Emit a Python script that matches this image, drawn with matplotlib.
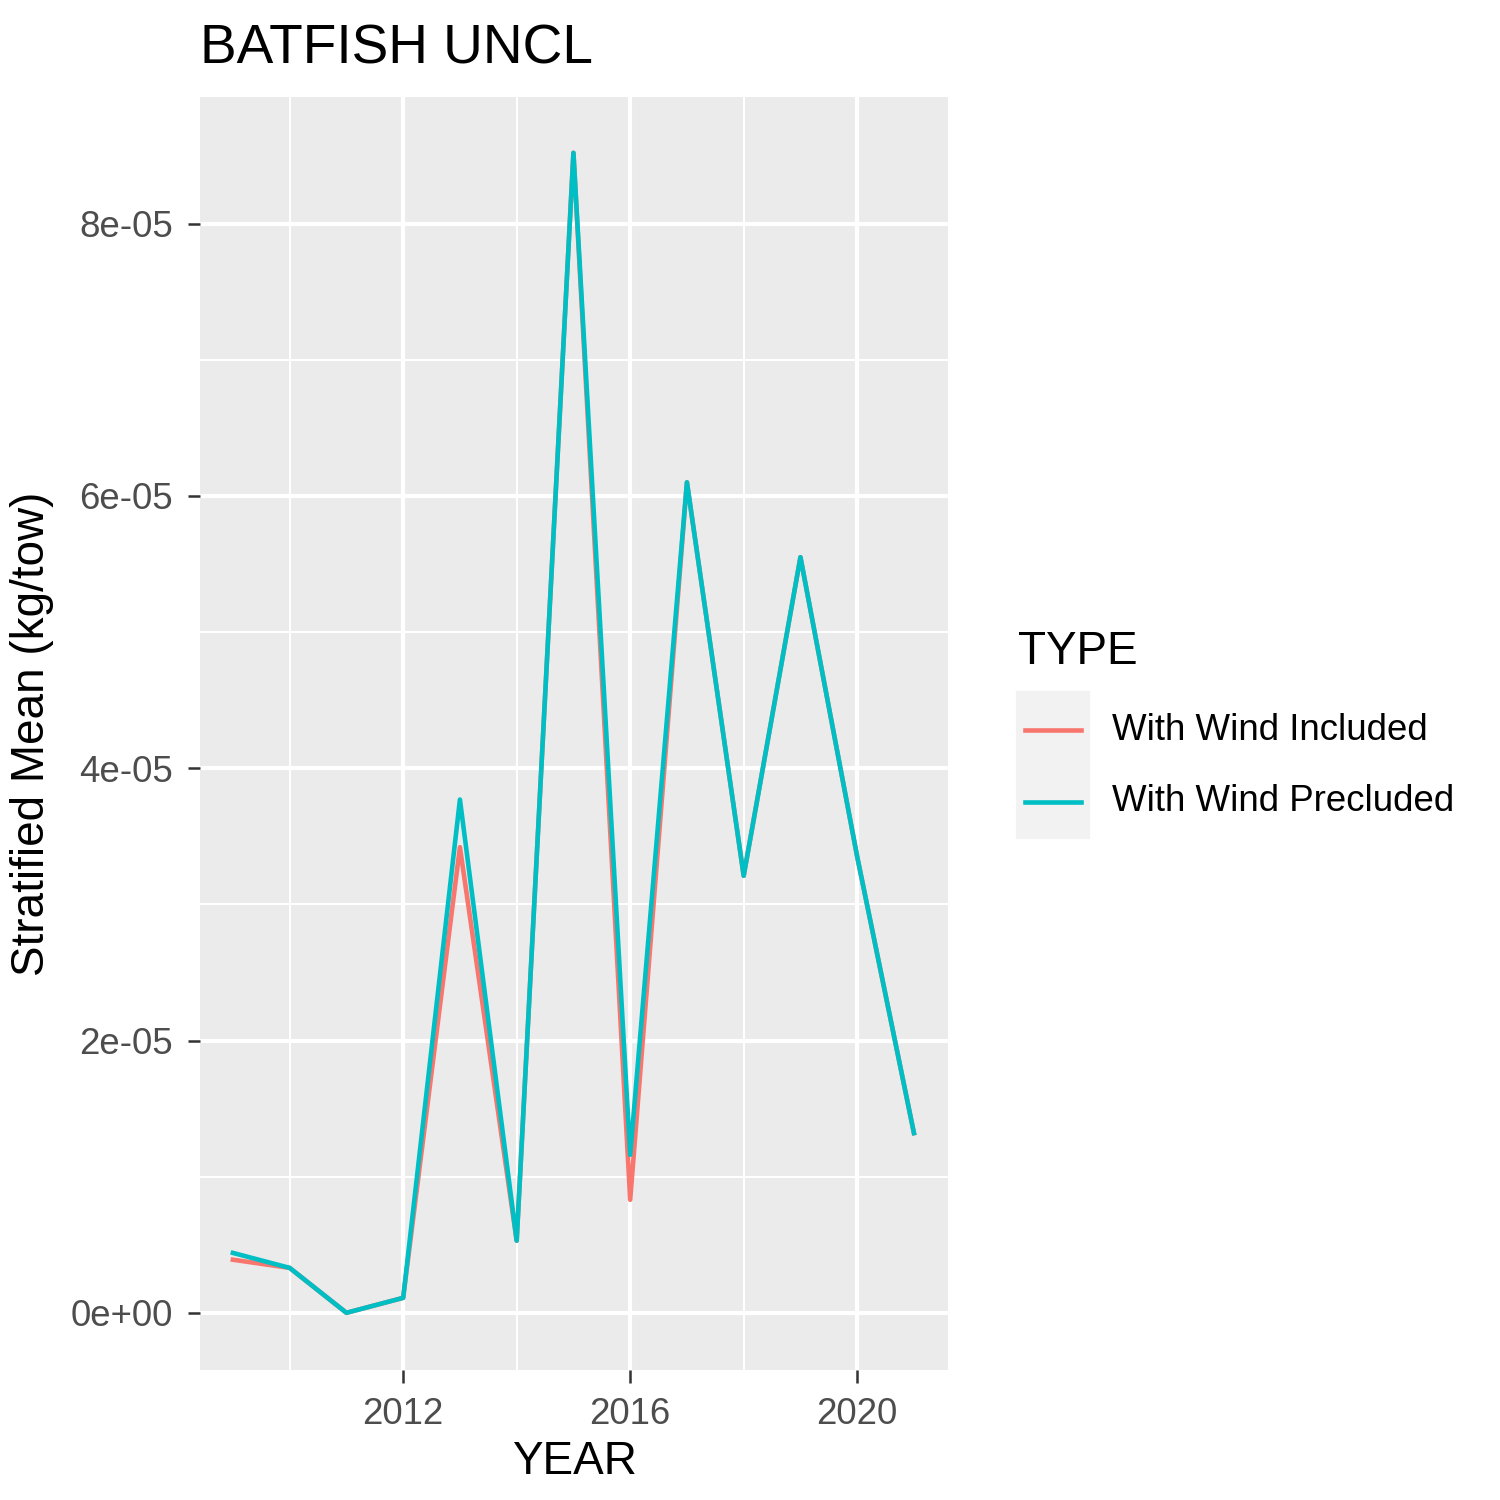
import numpy as np
import matplotlib.pyplot as plt
from matplotlib.lines import Line2D
from matplotlib.patches import Rectangle
from matplotlib.ticker import FuncFormatter, MultipleLocator

plt.rcParams['font.family'] = ['Liberation Sans', 'DejaVu Sans']

years = np.arange(2009, 2022)
wind_included = [0.39, 0.33, 0.0, 0.11, 3.42, 0.53, 8.52, 0.83, 6.10, 3.21, 5.55, 3.35, 1.32]
wind_precluded = [0.44, 0.33, 0.0, 0.11, 3.77, 0.53, 8.52, 1.16, 6.10, 3.21, 5.55, 3.35, 1.32]
wind_included = np.array(wind_included) * 1e-5
wind_precluded = np.array(wind_precluded) * 1e-5

red = '#F8766D'
teal = '#00BFC4'

fig = plt.figure(figsize=(5, 5), dpi=300)
ax = fig.add_axes([200/1500, 130/1500, 748/1500, 1273/1500])
ax.set_facecolor('#EBEBEB')
for s in ax.spines.values():
    s.set_visible(False)

ax.plot(years, wind_included, color=red, lw=1.1)
ax.plot(years, wind_precluded, color=teal, lw=1.1)

ax.set_xlim(2008.42, 2021.6)
ax.set_ylim(-0.42e-5, 8.93e-5)
ax.xaxis.set_major_locator(MultipleLocator(4))
ax.xaxis.set_minor_locator(MultipleLocator(2))
ax.yaxis.set_major_locator(MultipleLocator(2e-5))
ax.yaxis.set_minor_locator(MultipleLocator(1e-5))
ax.yaxis.set_major_formatter(FuncFormatter(lambda v, p: f"{v:.0e}"))
ax.grid(which='major', color='white', lw=1.0)
ax.grid(which='minor', color='white', lw=0.5)
ax.set_axisbelow(True)
ax.tick_params(which='major', length=3, color='#333333', labelcolor='#4D4D4D', labelsize=8.8, width=0.6)
ax.tick_params(which='minor', length=0)

ax.set_xlabel('YEAR', fontsize=11, labelpad=2)
ax.set_ylabel('Stratified Mean (kg/tow)', fontsize=11)
ax.set_title('BATFISH UNCL', fontsize=13.2, loc='left', x=0, pad=8)

# legend
fig.text(1018/1500, 1-652/1500, 'TYPE', fontsize=11, va='center', ha='left')
fig.patches.append(Rectangle((1018/1500, 1-837/1500), 70/1500, 144/1500,
                             transform=fig.transFigure, color='#F2F2F2', zorder=0))
for yy, col, lab in [(730, red, 'With Wind Included'), (802, teal, 'With Wind Precluded')]:
    fig.add_artist(Line2D([1025/1500, 1081/1500], [1-yy/1500]*2, color=col, lw=1.1,
                          transform=fig.transFigure))
    fig.text(1112/1500, 1-yy/1500, lab, fontsize=8.8, va='center', ha='left')

fig.savefig('out.png', dpi=300)
